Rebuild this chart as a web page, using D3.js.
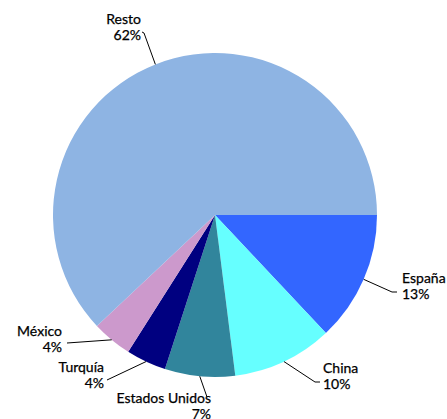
<!DOCTYPE html>
<html><head><meta charset="utf-8">
<script src="https://cdn.jsdelivr.net/npm/d3@7"></script>
<style>html,body{margin:0;padding:0;background:#fff;}svg{display:block;}</style>
</head><body>
<script>
const categories = ["España", "China", "Estados Unidos", "Turquía", "México", "Resto"];
const values = [13, 10, 7, 4, 4, 62];
const colors = ["#3366FF", "#66FFFF", "#31859C", "#000080", "#CC99CC", "#8EB4E3"];

// label layout (annotation positions relative to pie center)
const labelLayout = [
  {anchor:"start", tx:187, ty:68, pts:[[177,77],[182,77]]},
  {anchor:"start", tx:108, ty:158, pts:[[100,167],[105,167]]},
  {anchor:"end",   tx:-4, ty:188, pts:[[-8,182]]},
  {anchor:"end",   tx:-111, ty:157, pts:[[-108,165]]},
  {anchor:"end",   tx:-153, ty:121, pts:[[-148,128]]},
  {anchor:"end",   tx:-74, ty:-191, pts:[[-71,-182],[-73,-183]]}
];

const W = 447, H = 419, cx = 215, cy = 215, R = 162;
const svg = d3.select("body").append("svg").attr("width", W).attr("height", H);
const g = svg.append("g").attr("transform", `translate(${cx},${cy})`);

const pie = d3.pie().sort(null).value(d => d.v)
  .startAngle(Math.PI/2).endAngle(Math.PI/2 + 2*Math.PI);
const data = categories.map((c,i) => ({c, v: values[i], i}));
const arcs = pie(data);
const arc = d3.arc().innerRadius(0).outerRadius(R);

g.selectAll("path.slice").data(arcs).enter().append("path")
  .attr("class","slice").attr("d", arc).attr("fill", d => colors[d.data.i]);

const total = d3.sum(values);
arcs.forEach(a => {
  const L = labelLayout[a.data.i];
  const mid = (a.startAngle + a.endAngle)/2;
  const start = [R*Math.sin(mid), -R*Math.cos(mid)];
  const pts = [start].concat(L.pts);
  g.append("path").attr("d", d3.line()(pts))
    .attr("fill","none").attr("stroke","#000").attr("stroke-width",1);
  const t = g.append("text").attr("text-anchor", L.anchor)
    .attr("font-family","Lato, sans-serif").attr("font-size","14px").attr("fill","#000")
    .attr("stroke","#000").attr("stroke-width",0.25);
  t.append("tspan").attr("x", L.tx).attr("y", L.ty).text(a.data.c);
  t.append("tspan").attr("x", L.tx).attr("y", L.ty + 16)
    .text(Math.round(a.data.v/total*100) + "%");
});
</script>
</body></html>
